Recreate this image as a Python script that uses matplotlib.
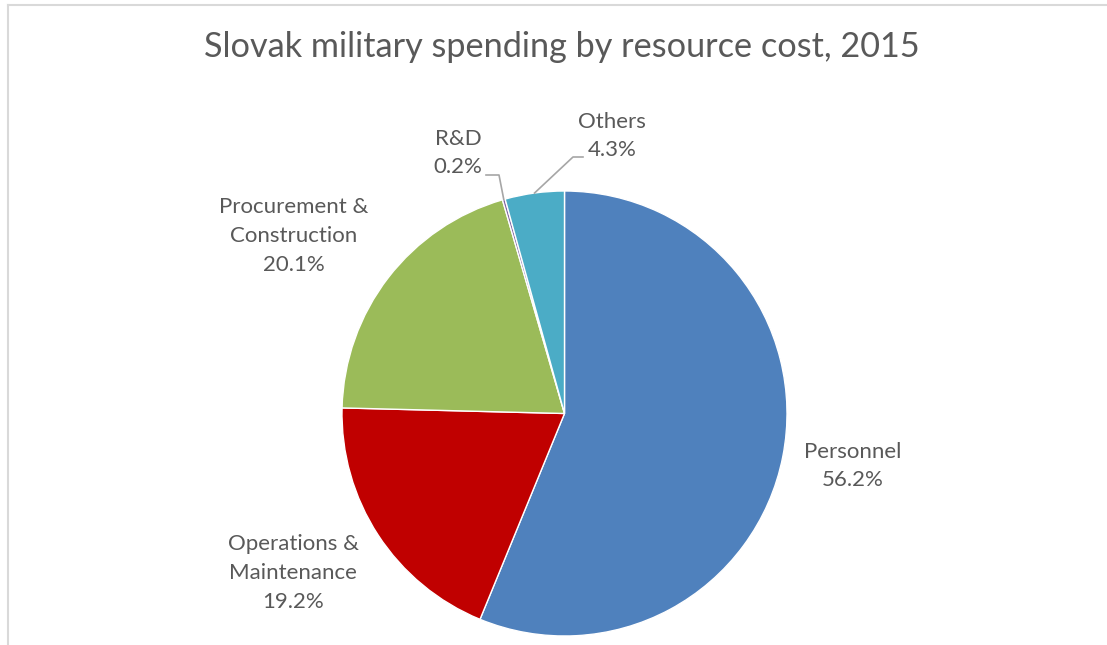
import numpy as np
import matplotlib
matplotlib.use("Agg")
import matplotlib.pyplot as plt
from matplotlib.lines import Line2D

# Slovak military spending shares, 2015 (percent)
categories = ["Personnel", "Operations &\nMaintenance", "Procurement &\nConstruction", "R&D", "Others"]
shares = [56.2, 19.2, 20.1, 0.2, 4.3]
colors = ["#4F81BD", "#C00000", "#9BBB59", "#8064A2", "#4BACC6"]
title = "Slovak military spending by resource cost, 2015"

W, H = 1107, 645
plt.rcParams["font.family"] = ["Lato", "DejaVu Sans"]
text_color = "#595959"

fig = plt.figure(figsize=(W / 100, H / 100), dpi=100)
fig.patch.set_facecolor("white")
ax = fig.add_axes([0, 0, 1, 1])

# chart frame (top and left edges visible)
ax.add_line(Line2D([8, W + 5], [H - 5, H - 5], color="#D9D9D9", lw=1.5))
ax.add_line(Line2D([8, 8], [H - 5, -5], color="#D9D9D9", lw=1.5))

cx, cy, r = 564.5, H - 413.5, 222.5
wedges, _ = ax.pie(shares, colors=colors, startangle=90, counterclock=False,
                   center=(cx, cy), radius=r, frame=True,
                   wedgeprops=dict(edgecolor="white", linewidth=1.0))
ax.set_xlim(0, W)
ax.set_ylim(0, H)
ax.set_aspect("equal")
ax.axis("off")

ax.text(561.5, H - 47, title, ha="center", va="center",
        fontsize=24.7, color=text_color)

# label block centres (pixels from top-left)
label_pos = {
    0: (853, 466),
    1: (293, 573),
    2: (294, 236),
    3: (458, 153),
    4: (612, 136),
}
for i, (lab, val) in enumerate(zip(categories, shares)):
    x, y = label_pos[i]
    ax.text(x, H - y, f"{lab}\n{val:.1f}%", ha="center", va="center",
            fontsize=16, color=text_color, linespacing=1.56)

# leader lines for the two thin slices, anchored at wedge mid-angle
def edge_point(w):
    ang = np.deg2rad((w.theta1 + w.theta2) / 2)
    return cx + r * np.cos(ang), cy + r * np.sin(ang)

ex, ey = edge_point(wedges[3])
ax.add_line(Line2D([486, 499, ex], [H - 175, H - 175, ey], color="#A6A6A6", lw=1.2))
ex, ey = edge_point(wedges[4])
ax.add_line(Line2D([583, 573, ex], [H - 157, H - 157, ey], color="#A6A6A6", lw=1.2))

fig.savefig("out.png", dpi=100, facecolor="white")
